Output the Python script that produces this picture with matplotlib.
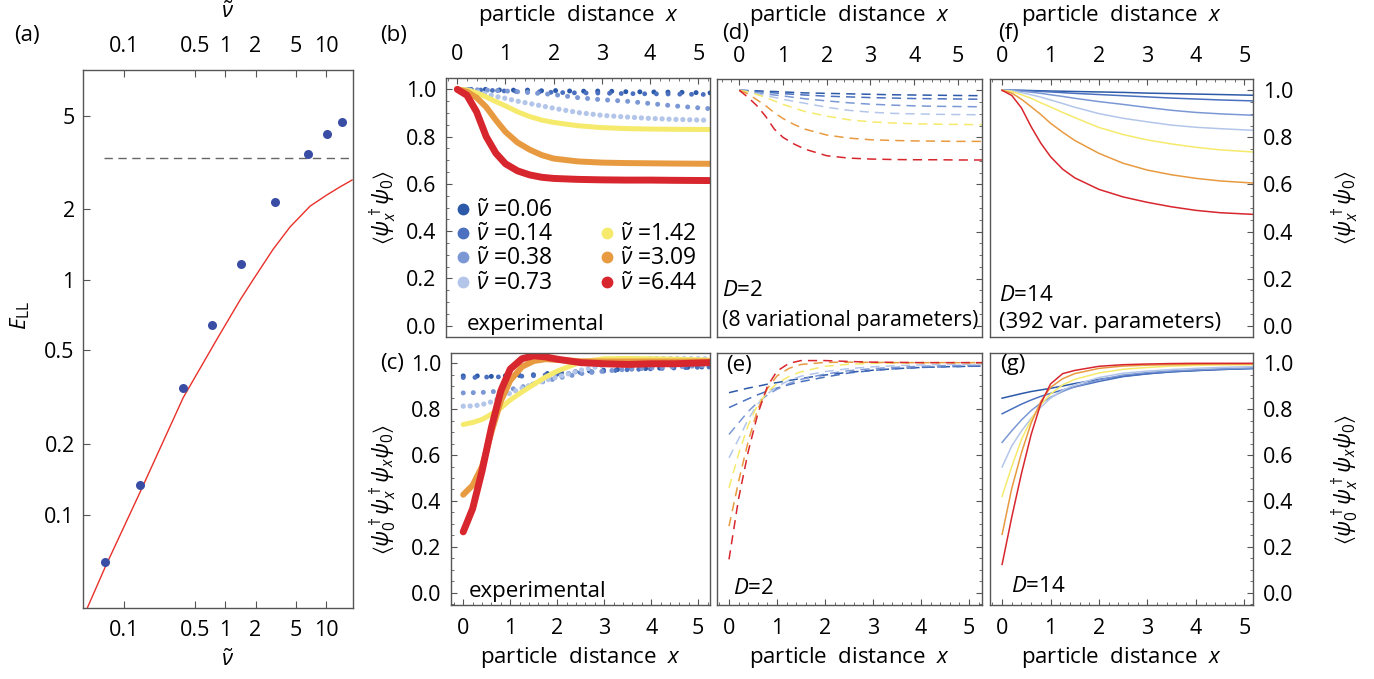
import numpy as np
import matplotlib
matplotlib.use('Agg')
import matplotlib.pyplot as plt
from matplotlib.lines import Line2D
from matplotlib.ticker import MultipleLocator, NullLocator, FixedLocator, FixedFormatter

plt.rcParams['font.family'] = ['Open Sans', 'DejaVu Sans']
plt.rcParams['mathtext.fontset'] = 'custom'
plt.rcParams['mathtext.rm'] = 'Open Sans'
plt.rcParams['mathtext.it'] = 'Open Sans:italic'
plt.rcParams['mathtext.bf'] = 'Open Sans:bold'
plt.rcParams['mathtext.fallback'] = 'stixsans'

# ---------------- data ----------------
nu_labels = ['0.06', '0.14', '0.38', '0.73', '1.42', '3.09', '6.44']
colors = ['#2c5aa8', '#4a70bf', '#7b98d4', '#b3c6ea', '#f5ea6c', '#e89a40', '#d8262e']

# panel (a)
a_nu = [0.065, 0.144, 0.384, 0.743, 1.44, 3.12, 6.63, 10.2, 14.4]
a_E = [0.0625, 0.134, 0.347, 0.644, 1.17, 2.15, 3.44, 4.18, 4.70]
a_line_nu = [0.043, 0.065, 0.144, 0.384, 0.834, 1.41, 1.89, 2.99, 4.40, 6.95, 10.2, 13.8, 18.1]
a_line_E = [0.040, 0.060, 0.125, 0.315, 0.561, 0.822, 1.0, 1.35, 1.68, 2.06, 2.30, 2.49, 2.66]
a_tg_nu = [0.063, 18.5]
a_tg_E = np.pi ** 2 / 3

# panel (b): experimental g1
xb = [0, 0.2, 0.4, 0.6, 0.8, 1.0, 1.25, 1.5, 1.75, 2.0, 2.5, 3.0, 3.5, 4.0, 4.5, 5.25]
b_06 = [1.0, 1.0, 0.998, 1.0, 0.997, 0.998, 0.996, 0.997, 0.994, 0.995, 0.992, 0.993, 0.99, 0.989, 0.988, 0.985]
b_14 = [1.0, 0.999, 0.998, 0.996, 0.995, 0.993, 0.991, 0.99, 0.989, 0.987, 0.985, 0.984, 0.982, 0.981, 0.98, 0.978]
b_38 = [1.0, 0.999, 0.998, 0.997, 0.995, 0.993, 0.99, 0.986, 0.982, 0.978, 0.965, 0.956, 0.95, 0.94, 0.93, 0.918]
b_73 = [1.0, 0.998, 0.99, 0.98, 0.97, 0.962, 0.95, 0.94, 0.93, 0.92, 0.902, 0.89, 0.883, 0.877, 0.873, 0.869]
b_142 = [1.0, 0.997, 0.985, 0.968, 0.948, 0.93, 0.905, 0.885, 0.87, 0.86, 0.846, 0.838, 0.834, 0.832, 0.831, 0.83]
b_309 = [1.0, 0.99, 0.965, 0.925, 0.87, 0.82, 0.775, 0.745, 0.722, 0.707, 0.695, 0.69, 0.688, 0.687, 0.686, 0.685]
b_644 = [1.0, 0.975, 0.905, 0.80, 0.73, 0.685, 0.655, 0.638, 0.628, 0.623, 0.619, 0.617, 0.616, 0.616, 0.615, 0.614]

# panel (c): experimental g2
xc = [0, 0.2, 0.4, 0.6, 0.8, 1.0, 1.25, 1.5, 1.75, 2.0, 2.5, 3.0, 3.5, 4.0, 4.5, 5.25]
c_06 = [0.945, 0.944, 0.946, 0.943, 0.946, 0.945, 0.948, 0.95, 0.955, 0.958, 0.965, 0.97, 0.975, 0.978, 0.981, 0.985]
c_14 = [0.938, 0.938, 0.94, 0.94, 0.941, 0.942, 0.944, 0.946, 0.949, 0.952, 0.96, 0.966, 0.972, 0.976, 0.98, 0.984]
c_38 = [0.871, 0.872, 0.873, 0.876, 0.88, 0.886, 0.897, 0.91, 0.922, 0.935, 0.955, 0.966, 0.974, 0.98, 0.985, 0.99]
c_73 = [0.813, 0.814, 0.82, 0.832, 0.85, 0.87, 0.892, 0.91, 0.926, 0.94, 0.97, 0.992, 1.01, 1.021, 1.021, 1.02]
c_142 = [0.733, 0.742, 0.755, 0.778, 0.805, 0.84, 0.875, 0.908, 0.94, 0.966, 1.006, 1.02, 1.021, 1.02, 1.018, 1.014]
c_309 = [0.427, 0.468, 0.55, 0.70, 0.835, 0.925, 0.985, 1.01, 1.018, 1.015, 1.009, 1.008, 1.008, 1.008, 1.008, 1.008]
c_644 = [0.265, 0.366, 0.53, 0.72, 0.88, 0.975, 1.02, 1.033, 1.028, 1.018, 1.003, 0.998, 0.995, 0.998, 0.998, 1.003]

# panel (d): D=2 g1
xd = [0, 0.2, 0.4, 0.6, 0.8, 1.0, 1.25, 1.5, 2.0, 2.5, 3.0, 3.5, 4.0, 4.5, 5.0, 5.55]
d_06 = [1, 0.999, 0.998, 0.996, 0.995, 0.993, 0.991, 0.989, 0.987, 0.985, 0.983, 0.981, 0.98, 0.979, 0.978, 0.977]
d_14 = [1, 0.998, 0.995, 0.992, 0.989, 0.986, 0.983, 0.98, 0.975, 0.972, 0.969, 0.967, 0.965, 0.964, 0.963, 0.962]
d_38 = [1, 0.997, 0.99, 0.985, 0.98, 0.976, 0.97, 0.964, 0.955, 0.947, 0.941, 0.937, 0.934, 0.932, 0.931, 0.93]
d_73 = [1, 0.993, 0.985, 0.977, 0.97, 0.962, 0.953, 0.945, 0.928, 0.915, 0.907, 0.902, 0.9, 0.898, 0.897, 0.896]
d_142 = [1, 0.993, 0.982, 0.97, 0.955, 0.94, 0.925, 0.91, 0.89, 0.875, 0.866, 0.861, 0.858, 0.856, 0.855, 0.854]
d_309 = [1, 0.985, 0.96, 0.935, 0.905, 0.88, 0.855, 0.835, 0.81, 0.797, 0.79, 0.787, 0.785, 0.784, 0.783, 0.783]
d_644 = [1, 0.97, 0.935, 0.89, 0.835, 0.80, 0.772, 0.75, 0.722, 0.712, 0.708, 0.706, 0.705, 0.705, 0.704, 0.704]

# panel (e): D=2 g2
xe = [0, 0.2, 0.4, 0.6, 0.8, 1.0, 1.25, 1.5, 2.0, 2.5, 3.0, 3.5, 4.0, 4.5, 5.27]
e_06 = [0.872, 0.882, 0.892, 0.9, 0.909, 0.916, 0.925, 0.934, 0.949, 0.961, 0.97, 0.977, 0.982, 0.985, 0.988]
e_14 = [0.807, 0.826, 0.845, 0.863, 0.879, 0.892, 0.907, 0.92, 0.94, 0.958, 0.969, 0.977, 0.982, 0.985, 0.988]
e_38 = [0.69, 0.74, 0.79, 0.83, 0.862, 0.887, 0.912, 0.93, 0.953, 0.968, 0.977, 0.983, 0.987, 0.99, 0.992]
e_73 = [0.588, 0.67, 0.756, 0.823, 0.867, 0.898, 0.926, 0.944, 0.964, 0.977, 0.985, 0.99, 0.993, 0.995, 0.997]
e_142 = [0.457, 0.605, 0.73, 0.82, 0.875, 0.912, 0.943, 0.963, 0.987, 0.996, 1.0, 1.001, 1.002, 1.002, 1.002]
e_309 = [0.29, 0.485, 0.66, 0.80, 0.89, 0.945, 0.978, 0.995, 1.004, 1.005, 1.004, 1.003, 1.003, 1.003, 1.003]
e_644 = [0.145, 0.41, 0.615, 0.78, 0.9, 0.966, 1.0, 1.012, 1.012, 1.008, 1.005, 1.004, 1.003, 1.003, 1.003]

# panel (f): D=14 g1
xf = [0, 0.2, 0.4, 0.6, 0.8, 1.0, 1.25, 1.5, 2.0, 2.5, 3.0, 3.5, 4.0, 4.5, 5.18]
f_06 = [1, 1, 1, 0.999, 0.998, 0.997, 0.996, 0.995, 0.993, 0.991, 0.988, 0.986, 0.984, 0.982, 0.979]
f_14 = [1, 1.0, 0.999, 0.997, 0.995, 0.993, 0.99, 0.987, 0.982, 0.977, 0.972, 0.967, 0.963, 0.959, 0.955]
f_38 = [1, 0.999, 0.996, 0.992, 0.987, 0.981, 0.974, 0.966, 0.952, 0.94, 0.927, 0.915, 0.906, 0.9, 0.894]
f_73 = [1, 0.998, 0.99, 0.981, 0.971, 0.959, 0.944, 0.928, 0.901, 0.881, 0.866, 0.852, 0.843, 0.837, 0.83]
f_142 = [1, 0.995, 0.981, 0.966, 0.947, 0.929, 0.906, 0.884, 0.842, 0.812, 0.789, 0.772, 0.758, 0.747, 0.738]
f_309 = [1, 0.988, 0.962, 0.93, 0.897, 0.86, 0.822, 0.787, 0.732, 0.69, 0.661, 0.641, 0.626, 0.615, 0.606]
f_644 = [1, 0.978, 0.925, 0.845, 0.775, 0.718, 0.665, 0.628, 0.579, 0.547, 0.524, 0.505, 0.49, 0.48, 0.473]

# panel (g): D=14 g2
xg = [0, 0.2, 0.4, 0.6, 0.8, 1.0, 1.25, 1.5, 2.0, 2.5, 3.0, 3.5, 4.0, 4.5, 5.18]
g_06 = [0.848, 0.858, 0.868, 0.877, 0.884, 0.891, 0.901, 0.912, 0.93, 0.944, 0.955, 0.963, 0.968, 0.973, 0.978]
g_14 = [0.78, 0.801, 0.822, 0.84, 0.856, 0.869, 0.884, 0.897, 0.921, 0.942, 0.954, 0.963, 0.969, 0.973, 0.977]
g_38 = [0.655, 0.706, 0.753, 0.794, 0.827, 0.852, 0.877, 0.898, 0.928, 0.949, 0.96, 0.967, 0.972, 0.976, 0.98]
g_73 = [0.548, 0.64, 0.705, 0.76, 0.809, 0.848, 0.883, 0.906, 0.938, 0.957, 0.966, 0.973, 0.978, 0.982, 0.986]
g_142 = [0.42, 0.55, 0.668, 0.755, 0.82, 0.866, 0.906, 0.93, 0.958, 0.974, 0.982, 0.988, 0.991, 0.993, 0.994]
g_309 = [0.254, 0.455, 0.61, 0.74, 0.834, 0.895, 0.933, 0.955, 0.978, 0.988, 0.992, 0.994, 0.996, 0.997, 0.997]
g_644 = [0.123, 0.33, 0.52, 0.69, 0.825, 0.91, 0.955, 0.969, 0.987, 0.994, 0.997, 0.999, 1.0, 1.0, 1.0]

# ---------------- figure ----------------
W, H = 1374, 679
fig = plt.figure(figsize=(W / 100, H / 100), dpi=100)
FS = 16      # labels / annotations
TFS = 15.5   # tick labels
FRAME = '#555555'


def add_ax(x0, y0, x1, y1):
    return fig.add_axes([x0 / W, 1 - y1 / H, (x1 - x0) / W, (y1 - y0) / H])


def style(ax):
    for s in ax.spines.values():
        s.set_color(FRAME)
        s.set_linewidth(1.0)


def ftext(x, y, s, **kw):
    kw.setdefault('fontsize', FS)
    fig.text(x / W, 1 - y / H, s, **kw)


# ---- panel (a)
axa = add_ax(83, 70, 353, 608)
style(axa)
axa.set_xscale('log')
axa.set_yscale('log')
axa.plot(a_line_nu, a_line_E, color='#e8302a', lw=1.0)
axa.plot(a_tg_nu, [a_tg_E, a_tg_E], color='#666666', lw=1.0, ls=(0, (6, 4)))
axa.plot(a_nu, a_E, 'o', color='#3a4da5', ms=6.5, mec='none')
axa.set_xlim(0.039, 18.5)
axa.set_ylim(0.040, 7.83)
axa.xaxis.set_major_locator(FixedLocator([0.1, 0.5, 1, 2, 5, 10]))
axa.xaxis.set_major_formatter(FixedFormatter(['0.1', '0.5', '1', '2', '5', '10']))
axa.xaxis.set_minor_locator(NullLocator())
axa.yaxis.set_major_locator(FixedLocator([0.1, 0.2, 0.5, 1, 2, 5]))
axa.yaxis.set_major_formatter(FixedFormatter(['0.1', '0.2', '0.5', '1', '2', '5']))
axa.yaxis.set_minor_locator(NullLocator())
axa.tick_params(which='both', direction='in', length=5, color=FRAME, labelsize=TFS,
                top=True, bottom=True, left=True, right=False, labeltop=True)
axa.tick_params(axis='x', pad=9)
axa.tick_params(axis='y', pad=6)
ftext(228, 12, r'$\tilde{\nu}$', ha='center', va='center')
ftext(228, 660, r'$\tilde{\nu}$', ha='center', va='center')
ftext(20, 315, r'$E_{\rm LL}$', ha='center', va='center', rotation=90)
ftext(14, 35, '(a)', ha='left', va='center')


# ---- correlation panels
def corr_axes(box, xlim, ylim, top, left):
    ax = add_ax(*box)
    style(ax)
    ax.set_xlim(*xlim)
    ax.set_ylim(*ylim)
    ax.xaxis.set_major_locator(MultipleLocator(1))
    ax.xaxis.set_minor_locator(MultipleLocator(0.2))
    ax.yaxis.set_major_locator(MultipleLocator(0.2))
    ax.yaxis.set_minor_locator(MultipleLocator(0.05))
    ax.yaxis.set_major_formatter(matplotlib.ticker.FormatStrFormatter('%.1f'))
    ax.tick_params(which='both', direction='in', color=FRAME, labelsize=TFS,
                   top=top, bottom=not top, labeltop=top, labelbottom=not top,
                   left=left, right=not left, labelleft=left, labelright=not left)
    ax.tick_params(which='major', length=4.5)
    ax.tick_params(which='minor', length=2.5)
    ax.tick_params(axis='x', pad=9)
    ax.tick_params(axis='y', pad=7)
    return ax


YL = (-0.048, 1.048)
YL2 = (-0.054, 1.045)
axb = corr_axes((446, 78, 710, 337), (-0.234, 5.243), YL, True, True)
axc = corr_axes((451, 353, 710, 605), (-0.26, 5.25), YL2, False, True)
axd = corr_axes((717, 79, 982, 337), (-0.51, 5.55), YL, True, False)
axe = corr_axes((717, 353, 982, 605), (-0.25, 5.27), YL2, False, False)
axf = corr_axes((990, 79, 1253, 337), (-0.25, 5.18), YL, True, False)
axg = corr_axes((990, 353, 1253, 605), (-0.25, 5.18), YL2, False, False)
for ax in (axd, axe):
    ax.tick_params(labelright=False)

dot_style = [(3.6, 2.8), (3.5, 2.4), (3.6, 2.0), (3.8, 1.3)]
warm_lw = [3.6, 4.3, 5.0]


def draw_exp(ax, x, series):
    for i, y in enumerate(series[:4]):
        lw, gap = dot_style[i]
        ax.plot(x, y, color=colors[i], lw=lw, ls=(0, (0.01, gap)),
                dash_capstyle='round', solid_capstyle='round')
    for j, y in enumerate(series[4:]):
        ax.plot(x, y, color=colors[4 + j], lw=warm_lw[j], solid_capstyle='round',
                solid_joinstyle='round')


draw_exp(axb, xb, [b_06, b_14, b_38, b_73, b_142, b_309, b_644])
draw_exp(axc, xc, [c_06, c_14, c_38, c_73, c_142, c_309, c_644])

for ax, x, series in ((axd, xd, [d_06, d_14, d_38, d_73, d_142, d_309, d_644]),
                      (axe, xe, [e_06, e_14, e_38, e_73, e_142, e_309, e_644])):
    for i, y in enumerate(series):
        ax.plot(x, y, color=colors[i], lw=1.1, ls=(0, (6, 4)))

for ax, x, series in ((axf, xf, [f_06, f_14, f_38, f_73, f_142, f_309, f_644]),
                      (axg, xg, [g_06, g_14, g_38, g_73, g_142, g_309, g_644])):
    for i, y in enumerate(series):
        ax.plot(x, y, color=colors[i], lw=1.1)

# legend in (b)
handles = []
labels = []
order = [0, 1, 2, 3, None, 4, 5, 6]
for k in order:
    if k is None:
        handles.append(Line2D([], [], ls='none', marker=None))
        labels.append(' ')
    else:
        handles.append(Line2D([], [], ls='none', marker='o', ms=8.5, color=colors[k], mec='none'))
        labels.append(r'$\tilde{\nu}$ =' + nu_labels[k])
axb.legend(handles, labels, ncol=2, loc='upper left', bbox_to_anchor=(0.005, 0.57),
           frameon=False, fontsize=16.5, handlelength=0.6, handletextpad=0.25,
           labelspacing=0.02, columnspacing=2.05, borderaxespad=0)

# texts
axb.text(0.08, 0.05, 'experimental', transform=axb.transAxes, fontsize=FS, va='center')
axc.text(0.07, 0.055, 'experimental', transform=axc.transAxes, fontsize=FS, va='center')
axd.text(0.02, 0.18, r'$D$=2', transform=axd.transAxes, fontsize=FS, va='center')
axd.text(0.02, 0.065, '(8 variational parameters)', transform=axd.transAxes, fontsize=15.3, va='center')
axe.text(0.06, 0.065, r'$D$=2', transform=axe.transAxes, fontsize=FS, va='center')
axf.text(0.035, 0.16, r'$D$=14', transform=axf.transAxes, fontsize=FS, va='center')
axf.text(0.035, 0.055, '(392 var. parameters)', transform=axf.transAxes, fontsize=FS, va='center')
axg.text(0.08, 0.075, r'$D$=14', transform=axg.transAxes, fontsize=FS, va='center')

ftext(380, 36, '(b)', ha='left', va='center')
ftext(722, 33, '(d)', ha='left', va='center')
ftext(998, 33, '(f)', ha='left', va='center')
ftext(380, 363, '(c)', ha='left', va='center')
axe.text(0.035, 0.95, '(e)', transform=axe.transAxes, fontsize=FS, va='center')
axg.text(0.04, 0.955, '(g)', transform=axg.transAxes, fontsize=FS, va='center')

xl = r'particle  distance  $x$'
ftext(578, 15, xl, ha='center', va='center')
ftext(849, 15, xl, ha='center', va='center')
ftext(1121, 15, xl, ha='center', va='center')
ftext(580, 658, xl, ha='center', va='center')
ftext(849, 658, xl, ha='center', va='center')
ftext(1121, 658, xl, ha='center', va='center')

ftext(383, 207, r'$\langle\psi_x^\dagger\psi_0\rangle$', ha='center', va='center', rotation=90)
ftext(383, 490, r'$\langle\psi_0^\dagger\psi_x^\dagger\psi_x\psi_0\rangle$', ha='center', va='center', rotation=90)
ftext(1345, 207, r'$\langle\psi_x^\dagger\psi_0\rangle$', ha='center', va='center', rotation=90)
ftext(1345, 480, r'$\langle\psi_0^\dagger\psi_x^\dagger\psi_x\psi_0\rangle$', ha='center', va='center', rotation=90)

fig.savefig('out.png', dpi=100)
